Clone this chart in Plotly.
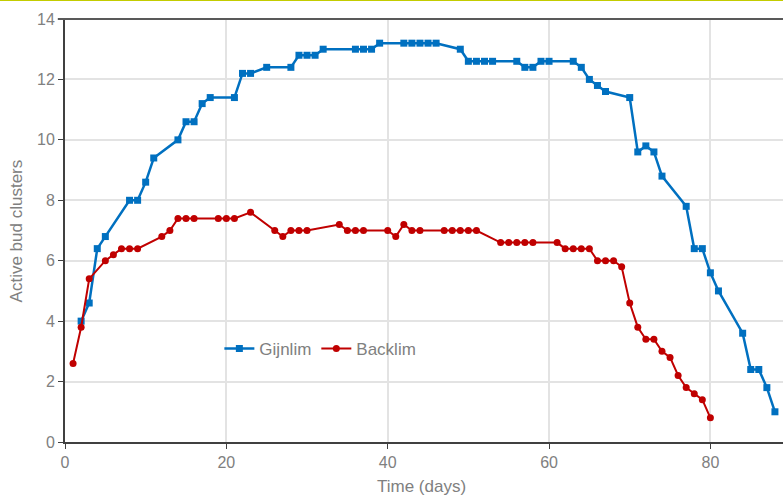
import plotly.graph_objects as go

gijnlim_t = [2, 3, 4, 5, 8, 9, 10, 11, 14, 15, 16, 17, 18, 21, 22, 23, 25, 28, 29, 30, 31, 32,
             36, 37, 38, 39, 42, 43, 44, 45, 46, 49, 50, 51, 52, 53, 56, 57, 58, 59, 60, 63,
             64, 65, 66, 67, 70, 71, 72, 73, 74, 77, 78, 79, 80, 81, 84, 85, 86, 87, 88]
gijnlim_v = [4.0, 4.6, 6.4, 6.8, 8.0, 8.0, 8.6, 9.4, 10.0, 10.6, 10.6, 11.2, 11.4, 11.4, 12.2, 12.2,
             12.4, 12.4, 12.8, 12.8, 12.8, 13.0, 13.0, 13.0, 13.0, 13.2, 13.2, 13.2, 13.2, 13.2,
             13.2, 13.0, 12.6, 12.6, 12.6, 12.6, 12.6, 12.4, 12.4, 12.6, 12.6, 12.6, 12.4, 12.0,
             11.8, 11.6, 11.4, 9.6, 9.8, 9.6, 8.8, 7.8, 6.4, 6.4, 5.6, 5.0, 3.6, 2.4, 2.4, 1.8, 1.0]

backlim_t = [1, 2, 3, 5, 6, 7, 8, 9, 12, 13, 14, 15, 16, 19, 20, 21, 23, 26, 27, 28, 29, 30,
             34, 35, 36, 37, 40, 41, 42, 43, 44, 47, 48, 49, 50, 51, 54, 55, 56, 57, 58, 61,
             62, 63, 64, 65, 66, 67, 68, 69, 70, 71, 72, 73, 74, 75, 76, 77, 78, 79, 80]
backlim_v = [2.6, 3.8, 5.4, 6.0, 6.2, 6.4, 6.4, 6.4, 6.8, 7.0, 7.4, 7.4, 7.4, 7.4, 7.4, 7.4,
             7.6, 7.0, 6.8, 7.0, 7.0, 7.0, 7.2, 7.0, 7.0, 7.0, 7.0, 6.8, 7.2, 7.0, 7.0, 7.0,
             7.0, 7.0, 7.0, 7.0, 6.6, 6.6, 6.6, 6.6, 6.6, 6.6, 6.4, 6.4, 6.4, 6.4, 6.0, 6.0,
             6.0, 5.8, 4.6, 3.8, 3.4, 3.4, 3.0, 2.8, 2.2, 1.8, 1.6, 1.4, 0.8]

x_ticks = [0, 20, 40, 60, 80]
y_ticks = [0, 2, 4, 6, 8, 10, 12, 14]

fig = go.Figure()
fig.add_trace(go.Scatter(
    x=gijnlim_t, y=gijnlim_v, name="Gijnlim", mode="lines+markers",
    line=dict(color="#0070C0", width=2.5),
    marker=dict(symbol="square", size=7, color="#0070C0"),
    cliponaxis=False,
))
fig.add_trace(go.Scatter(
    x=backlim_t, y=backlim_v, name="Backlim", mode="lines+markers",
    line=dict(color="#C00000", width=2),
    marker=dict(symbol="circle", size=7, color="#C00000"),
    cliponaxis=False,
))

font_color = "#808080"
fig.update_layout(
    width=783, height=497,
    margin=dict(l=65, r=0, t=19, b=55, autoexpand=False),
    paper_bgcolor="white", plot_bgcolor="white",
    font=dict(family="Liberation Sans, Arial, sans-serif", size=16, color=font_color),
    showlegend=True,
    legend=dict(orientation="h", x=0.215, y=0.22, xanchor="left", yanchor="middle",
                bgcolor="rgba(0,0,0,0)", font=dict(size=17, color=font_color),
                itemwidth=30, tracegroupgap=0),
    xaxis=dict(range=[0, 89], tickvals=x_ticks, showgrid=True, gridcolor="#e3e3e3", gridwidth=1.5,
               showline=True, linecolor="#404040", linewidth=2, ticks="outside", ticklen=5,
               tickcolor="#404040", zeroline=False, automargin=False),
    yaxis=dict(range=[0, 14], tickvals=y_ticks, showgrid=True, gridcolor="#e3e3e3", gridwidth=1.5,
               showline=True, linecolor="#404040", linewidth=2, ticks="outside", ticklen=5,
               tickcolor="#404040", zeroline=False, automargin=False),
    annotations=[
        dict(text="Time (days)", xref="paper", yref="paper", x=0.497, y=-0.106,
             xanchor="center", yanchor="middle", showarrow=False,
             font=dict(size=17, color=font_color)),
        dict(text="Active bud clusters", xref="paper", yref="paper", x=-0.067, y=0.5,
             xanchor="center", yanchor="middle", showarrow=False, textangle=-90,
             font=dict(size=17, color=font_color)),
    ],
)
fig.add_shape(type="line", xref="paper", yref="paper", x0=-0.01, x1=1, y0=1, y1=1,
              line=dict(color="#595959", width=2))
fig.add_shape(type="line", xref="paper", yref="paper", x0=-0.1, x1=1, y0=1.045, y1=1.045,
              line=dict(color="#c3cc00", width=2))

fig.write_html("out.html", config={"displayModeBar": False},
               post_script="document.body.style.margin='0';document.body.style.overflow='hidden';")
